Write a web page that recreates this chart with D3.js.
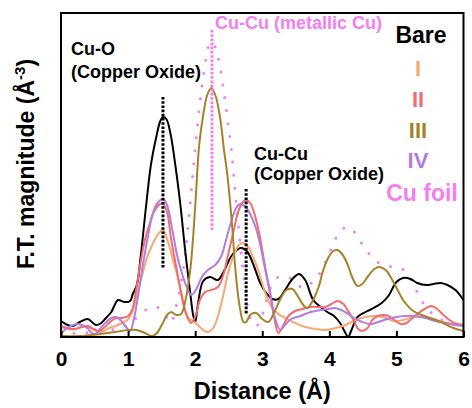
<!DOCTYPE html>
<html>
<head>
<meta charset="utf-8">
<script src="https://cdn.jsdelivr.net/npm/d3@7"></script>
<style>
  html, body { margin: 0; padding: 0; background: #fff; }
  svg { display: block; }
  text { font-family: "Liberation Sans", Arial, sans-serif; font-weight: bold; }
</style>
</head>
<body>
<svg id="chart" width="472" height="408"></svg>
<script>
// Fourier-transformed EXAFS magnitude vs. radial distance
const xTicks = [0, 1, 2, 3, 4, 5, 6];

const bareR  = [0.00,0.10,0.18,0.28,0.40,0.52,0.60,0.67,0.75,0.85,0.94,1.03,1.07,1.13,1.19,1.27,1.34,1.42,1.48,1.52,1.57,1.63,1.70,1.78,1.85,1.93,1.97,2.00,2.04,2.12,2.22,2.34,2.43,2.54,2.64,2.70,2.78,2.87,2.97,3.06,3.15,3.24,3.34,3.45,3.55,3.64,3.76,3.87,3.97,4.07,4.16,4.24,4.28,4.33,4.42,4.54,4.66,4.78,4.88,5.00,5.10,5.21,5.31,5.45,5.55,5.66,5.76,5.88,6.00];
const bareFT = [0.16,0.12,0.11,0.15,0.18,0.12,0.14,0.19,0.25,0.37,0.35,0.36,0.43,0.52,0.82,1.32,1.72,2.00,2.16,2.20,2.18,2.04,1.74,1.32,0.87,0.42,0.22,0.15,0.32,0.56,0.60,0.57,0.66,0.81,0.88,0.89,0.85,0.72,0.54,0.44,0.38,0.38,0.47,0.58,0.63,0.57,0.37,0.30,0.25,0.21,0.14,0.04,0.00,0.07,0.20,0.25,0.29,0.34,0.41,0.55,0.59,0.58,0.54,0.52,0.53,0.54,0.52,0.47,0.37];

const s1R  = [0.00,0.10,0.21,0.31,0.40,0.49,0.57,0.64,0.72,0.81,0.91,0.99,1.06,1.13,1.21,1.28,1.36,1.43,1.52,1.60,1.67,1.75,1.82,1.90,1.97,2.04,2.12,2.19,2.27,2.34,2.42,2.49,2.57,2.64,2.70,2.78,2.85,2.94,3.03,3.12,3.22,3.34,3.49,3.64,3.79,3.94,4.09,4.24,4.39,4.54,4.69,4.84,4.96,5.10,5.25,5.40,5.55,5.70,5.85,6.00];
const s1FT = [0.10,0.08,0.08,0.10,0.10,0.07,0.05,0.06,0.09,0.11,0.14,0.17,0.25,0.42,0.62,0.79,0.92,1.01,1.07,0.94,0.77,0.57,0.34,0.19,0.16,0.12,0.07,0.05,0.09,0.21,0.42,0.64,0.81,0.91,0.94,0.91,0.82,0.67,0.47,0.32,0.24,0.19,0.14,0.10,0.08,0.07,0.09,0.12,0.17,0.20,0.21,0.19,0.16,0.17,0.20,0.20,0.18,0.15,0.13,0.12];

const s2R  = [0.00,0.10,0.21,0.31,0.40,0.49,0.57,0.64,0.73,0.82,0.91,1.00,1.06,1.12,1.18,1.25,1.33,1.40,1.48,1.52,1.58,1.64,1.72,1.79,1.87,1.94,2.01,2.07,2.15,2.24,2.34,2.42,2.49,2.57,2.64,2.70,2.76,2.82,2.88,2.96,3.03,3.10,3.18,3.24,3.31,3.39,3.49,3.60,3.72,3.84,3.94,4.03,4.12,4.21,4.28,4.36,4.43,4.49,4.57,4.64,4.72,4.81,4.88,4.97,5.06,5.15,5.24,5.33,5.42,5.52,5.61,5.70,5.79,5.90,6.00];
const s2FT = [0.11,0.09,0.08,0.10,0.11,0.08,0.06,0.09,0.15,0.19,0.19,0.21,0.27,0.47,0.72,0.97,1.15,1.27,1.33,1.33,1.25,0.99,0.69,0.45,0.22,0.14,0.22,0.37,0.45,0.47,0.50,0.62,0.82,1.05,1.25,1.34,1.37,1.34,1.24,1.02,0.75,0.49,0.19,0.04,0.11,0.21,0.26,0.28,0.30,0.30,0.30,0.33,0.36,0.33,0.26,0.17,0.08,0.06,0.09,0.17,0.21,0.22,0.21,0.17,0.13,0.14,0.19,0.24,0.28,0.31,0.28,0.22,0.17,0.13,0.12];

const s3R  = [0.00,0.28,0.58,0.81,1.00,1.13,1.25,1.36,1.43,1.51,1.58,1.64,1.72,1.79,1.85,1.93,2.00,2.06,2.12,2.18,2.24,2.30,2.37,2.43,2.48,2.55,2.60,2.66,2.72,2.76,2.82,2.91,3.00,3.09,3.18,3.27,3.36,3.45,3.52,3.61,3.67,3.75,3.84,3.91,3.99,4.06,4.12,4.19,4.27,4.34,4.42,4.49,4.58,4.67,4.75,4.84,4.93,5.01,5.10,5.25,5.46,5.66,5.85,6.00];
const s3FT = [0.01,0.01,0.03,0.05,0.07,0.07,0.04,0.01,0.04,0.13,0.22,0.25,0.22,0.23,0.35,0.69,1.30,1.92,2.22,2.42,2.49,2.42,2.20,1.87,1.62,1.12,0.67,0.32,0.15,0.15,0.22,0.24,0.18,0.15,0.25,0.38,0.47,0.48,0.42,0.32,0.29,0.36,0.50,0.67,0.80,0.86,0.87,0.83,0.73,0.60,0.51,0.53,0.61,0.68,0.70,0.67,0.58,0.48,0.37,0.26,0.20,0.15,0.09,0.06];

const s4R  = [0.00,0.07,0.15,0.24,0.31,0.39,0.46,0.51,0.58,0.66,0.75,0.82,0.90,0.97,1.03,1.09,1.15,1.22,1.30,1.37,1.45,1.52,1.58,1.66,1.73,1.81,1.88,1.94,2.01,2.10,2.19,2.30,2.39,2.46,2.54,2.61,2.67,2.75,2.82,2.90,2.97,3.04,3.12,3.19,3.27,3.34,3.43,3.57,3.72,3.87,3.99,4.07,4.18,4.28,4.39,4.49,4.61,4.73,4.87,5.00,5.13,5.28,5.43,5.58,5.73,5.88,6.00];
const s4FT = [0.03,0.08,0.11,0.13,0.12,0.09,0.04,0.03,0.08,0.14,0.19,0.20,0.16,0.10,0.06,0.19,0.42,0.72,1.02,1.24,1.35,1.38,1.32,1.07,0.82,0.62,0.49,0.42,0.47,0.60,0.67,0.72,0.81,0.97,1.16,1.29,1.33,1.30,1.23,1.10,0.92,0.69,0.44,0.19,0.07,0.12,0.18,0.21,0.25,0.27,0.28,0.29,0.27,0.23,0.18,0.15,0.13,0.15,0.18,0.20,0.21,0.21,0.19,0.16,0.14,0.12,0.11];

const foilR  = [0.00,0.28,0.58,0.81,0.96,1.07,1.22,1.33,1.43,1.52,1.60,1.64,1.72,1.79,1.85,1.91,1.97,2.03,2.09,2.15,2.19,2.24,2.30,2.36,2.42,2.48,2.54,2.60,2.67,2.75,2.82,2.91,3.01,3.12,3.24,3.42,3.61,3.75,3.87,3.97,4.06,4.16,4.30,4.43,4.55,4.69,4.87,5.06,5.19,5.31,5.43,5.58,5.78,6.00];
const foilFT = [0.03,0.04,0.05,0.08,0.11,0.16,0.25,0.29,0.30,0.25,0.17,0.14,0.32,0.54,0.82,1.22,1.67,2.09,2.45,2.74,2.89,2.95,2.90,2.74,2.49,2.19,1.87,1.42,0.94,0.47,0.19,0.11,0.24,0.49,0.60,0.59,0.49,0.55,0.65,0.79,0.93,1.06,1.10,0.99,0.87,0.76,0.71,0.69,0.61,0.45,0.31,0.21,0.14,0.10];

// Peak assignment markers: [distance, lower FT, upper FT]
const cuOMarker      = [1.52, 0.69, 2.40];
const cuCuOxMarker   = [2.76, 0.22, 1.48];
const cuCuMetMarker  = [2.25, 1.07, 3.07];

const seriesNames  = ["Bare", "I", "II", "III", "IV", "Cu foil"];
const seriesColors = ["#000000", "#f6a772", "#f16c6c", "#a5822a", "#b37ddf", "#f27ef2"];

const svg = d3.select("#chart");
const x = d3.scaleLinear().domain([0, 6]).range([61, 463.5]);
const y = d3.scaleLinear().domain([0, 3.24]).range([337, 13]);

svg.append("defs").append("clipPath").attr("id", "plot-clip")
  .append("rect").attr("x", x(0)).attr("y", y(3.24)).attr("width", x(6) - x(0)).attr("height", y(0) - y(3.24));

const line = d3.line()
  .x(d => x(d[0])).y(d => y(d[1]))
  .curve(d3.curveCatmullRom.alpha(0.5));

const pairs = (r, v) => r.map((d, i) => [d, v[i]]);

const series = [
  { data: pairs(bareR, bareFT), color: seriesColors[0] },
  { data: pairs(s1R, s1FT),     color: seriesColors[1] },
  { data: pairs(s2R, s2FT),     color: seriesColors[2] },
  { data: pairs(s4R, s4FT),     color: seriesColors[4] },
  { data: pairs(s3R, s3FT),     color: seriesColors[3] }
];

const plot = svg.append("g").attr("clip-path", "url(#plot-clip)");

// Cu foil reference as a dotted curve
plot.append("path")
  .attr("d", line(pairs(foilR, foilFT)))
  .attr("fill", "none")
  .attr("stroke", seriesColors[5])
  .attr("stroke-width", 3)
  .attr("stroke-linecap", "round")
  .attr("stroke-dasharray", "0,13");

series.forEach(s => {
  plot.append("path")
    .attr("d", line(s.data))
    .attr("fill", "none")
    .attr("stroke", s.color)
    .attr("stroke-width", 2)
    .attr("stroke-linejoin", "round");
});

// vertical dotted markers
[[cuOMarker, "#000"], [cuCuOxMarker, "#000"], [cuCuMetMarker, seriesColors[5]]].forEach(([m, c]) => {
  svg.append("line")
    .attr("x1", x(m[0])).attr("x2", x(m[0]))
    .attr("y1", y(m[2])).attr("y2", y(m[1]))
    .attr("stroke", c)
    .attr("stroke-width", 3)
    .attr("stroke-dasharray", "2.6,1.6");
});

// frame
svg.append("rect")
  .attr("x", x(0)).attr("y", y(3.24))
  .attr("width", x(6) - x(0)).attr("height", y(0) - y(3.24))
  .attr("fill", "none").attr("stroke", "#000").attr("stroke-width", 2);

// x axis: inward ticks, bold labels
const xAxis = d3.axisBottom(x).tickValues(xTicks).tickSizeInner(-6).tickSizeOuter(0).tickPadding(14).tickFormat(d3.format("d"));
const gx = svg.append("g").attr("transform", `translate(0,${y(0)})`).call(xAxis);
gx.select(".domain").remove();
gx.selectAll(".tick line").attr("stroke", "#000").attr("stroke-width", 2);
gx.selectAll(".tick text")
  .attr("font-family", "'Liberation Sans', Arial, sans-serif")
  .attr("font-weight", "bold").attr("font-size", 21).attr("fill", "#000");

svg.append("text")
  .attr("x", (x(0) + x(6)) / 2).attr("y", 399)
  .attr("text-anchor", "middle").attr("font-size", 23.5)
  .text("Distance (Å)");

const yl = svg.append("text")
  .attr("transform", "translate(34,164) rotate(-90)")
  .attr("text-anchor", "middle").attr("font-size", 23);
yl.append("tspan").text("F.T. magnitude (Å");
yl.append("tspan").attr("font-size", 15).attr("dy", -9).text("-3");
yl.append("tspan").attr("dy", 9).text(")");

// peak annotations
const ann = [
  { t: "Cu-O", x: 71, y: 55, c: "#000" },
  { t: "(Copper Oxide)", x: 71, y: 78, c: "#000" },
  { t: "Cu-Cu", x: 254, y: 160, c: "#000" },
  { t: "(Copper Oxide)", x: 254, y: 180, c: "#000" },
  { t: "Cu-Cu (metallic Cu)", x: 215, y: 29, c: seriesColors[5] }
];
ann.forEach(a => {
  svg.append("text").attr("x", a.x).attr("y", a.y).attr("font-size", 18).attr("fill", a.c).text(a.t);
});

// legend
svg.append("text").attr("x", 421).attr("y", 43).attr("text-anchor", "middle")
  .attr("font-size", 23).text(seriesNames[0]);
seriesNames.slice(1, 5).forEach((n, i) => {
  svg.append("text").attr("x", 418).attr("y", 76 + i * 30.8)
    .attr("text-anchor", "middle")
    .attr("font-family", "'Liberation Serif', 'Times New Roman', serif")
    .attr("font-size", 22).attr("fill", seriesColors[i + 1]).text(n);
});
svg.append("text").attr("x", 422).attr("y", 201).attr("text-anchor", "middle")
  .attr("font-size", 23).attr("fill", seriesColors[5]).text(seriesNames[5]);
</script>
</body>
</html>
